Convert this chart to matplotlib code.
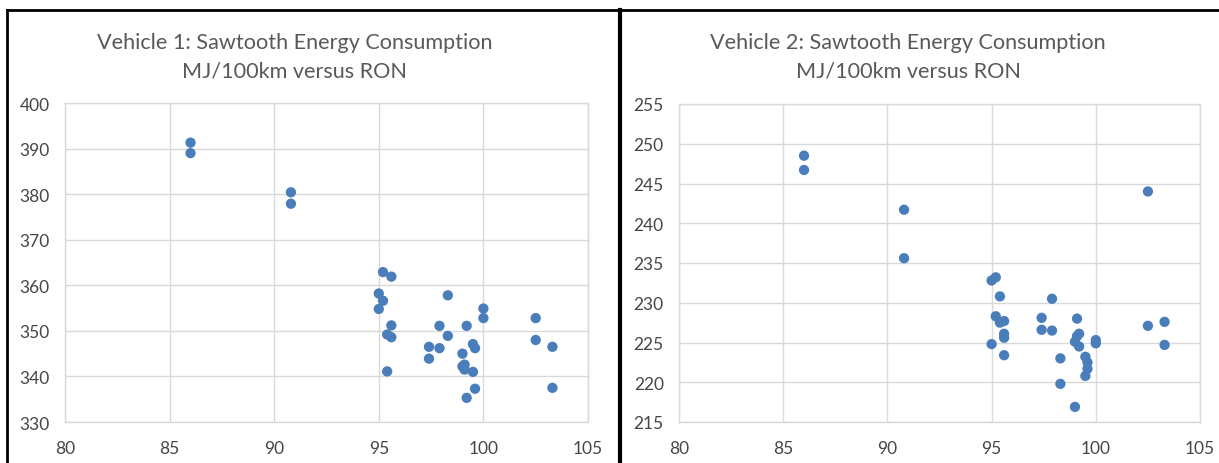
import matplotlib
matplotlib.use("Agg")
import matplotlib.pyplot as plt
from matplotlib.lines import Line2D

# Vehicle 1 data (RON, MJ/100km)
ron_v1 = [86.0, 86.0, 90.8, 90.8, 95.2, 95.6, 95.0, 95.2, 95.0, 95.6, 95.4, 95.6, 95.4,
          97.4, 97.4, 97.9, 97.9, 98.3, 98.3, 99.2, 99.0, 99.0, 99.1, 99.1, 99.5, 99.6,
          99.5, 99.6, 99.2, 100.0, 100.0, 102.5, 102.5, 103.3, 103.3]
mj_v1 = [391.3, 389.0, 380.4, 377.9, 362.9, 361.9, 358.2, 356.6, 354.8, 351.2, 349.2, 348.6, 341.1,
         346.5, 343.9, 351.1, 346.2, 357.8, 348.9, 351.1, 345.0, 342.2, 342.6, 341.5, 347.1, 346.2,
         341.0, 337.3, 335.3, 354.9, 352.8, 352.8, 348.0, 346.5, 337.5]

# Vehicle 2 data
ron_v2 = [86.0, 86.0, 90.8, 90.8, 95.0, 95.2, 95.4, 95.2, 95.4, 95.6, 95.6, 95.6, 95.0, 95.6,
          97.4, 97.4, 97.9, 97.9, 98.3, 98.3, 99.1, 99.2, 99.1, 99.0, 99.2, 99.5, 99.6, 99.6,
          99.5, 99.0, 100.0, 100.0, 102.5, 102.5, 103.3, 103.3]
mj_v2 = [248.5, 246.7, 241.7, 235.6, 232.8, 233.2, 230.8, 228.3, 227.5, 227.7, 226.1, 225.6, 224.8, 223.4,
         228.1, 226.6, 230.5, 226.5, 223.0, 219.8, 228.0, 226.1, 225.8, 225.1, 224.5, 223.2, 222.5, 221.7,
         220.8, 216.9, 225.3, 224.9, 244.0, 227.1, 227.6, 224.7]

titles = ["Vehicle 1: Sawtooth Energy Consumption\nMJ/100km versus RON",
          "Vehicle 2: Sawtooth Energy Consumption\nMJ/100km versus RON"]

W, H = 1219, 464
plt.rcParams["font.family"] = ["Lato", "DejaVu Sans"]
fig = plt.figure(figsize=(W / 100, H / 100), dpi=100)

def fx(px): return px / W
def fy(py): return 1 - py / H

txt = "#595959"
grid = "#d9d9d9"
blue = "#4a7ebb"

panels = [
    (ron_v1, mj_v1, (65, 588, 104, 423), (330, 400, 10), 295, titles[0]),
    (ron_v2, mj_v2, (679, 1200, 105, 423), (215, 255, 5), 908, titles[1]),
]
for xs, ys, (l, r, t, b), (y0, y1, ystep), tcx, title in panels:
    ax = fig.add_axes([fx(l), fy(b), fx(r) - fx(l), fy(t) - fy(b)])
    ax.scatter(xs, ys, s=55, color=blue, edgecolors="none", zorder=3, clip_on=False)
    ax.set_xlim(80, 105); ax.set_ylim(y0, y1)
    ax.set_xticks(range(80, 106, 5))
    ax.set_yticks(range(y0, y1 + 1, ystep))
    ax.grid(True, color=grid, lw=1)
    for s in ax.spines.values():
        s.set_color(grid); s.set_linewidth(1)
    ax.tick_params(length=0, labelsize=12.5, colors="#464646", pad=13)
    ax.tick_params(axis="y", pad=11)
    fig.text(fx(tcx), fy(57), title, ha="center", va="center", fontsize=15.6,
             color=txt, linespacing=1.5)

# panel borders
for (x0, y0_, x1, y1_, lw) in [(7, 11, 7, 464, 2), (7, 11, 1219, 11, 2), (620, 11, 620, 464, 3)]:
    fig.add_artist(Line2D([fx(x0), fx(x1)], [fy(y0_), fy(y1_)], color="black", lw=lw,
                          transform=fig.transFigure))

fig.savefig("out.png", dpi=100)
